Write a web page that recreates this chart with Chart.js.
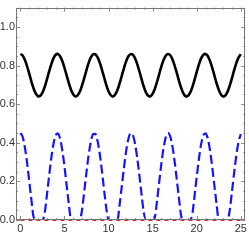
<!DOCTYPE html>
<html><head><meta charset="utf-8">
<script src="https://cdn.jsdelivr.net/npm/chart.js@4"></script>
<style>html,body{margin:0;padding:0;background:#fff;}canvas{display:block;}</style>
</head><body>
<canvas id="c" width="249" height="240"></canvas>
<script>
const xStart = 0, xStep = 0.25;
const blackVals = [0.860,0.852,0.830,0.797,0.758,0.717,0.681,0.654,0.641,0.643,0.660,0.689,0.727,0.768,0.806,0.837,0.856,0.860,0.848,0.823,0.788,0.748,0.708,0.673,0.650,0.640,0.646,0.666,0.698,0.737,0.778,0.815,0.843,0.858,0.858,0.843,0.815,0.778,0.738,0.698,0.666,0.646,0.640,0.650,0.673,0.707,0.747,0.787,0.823,0.848,0.859,0.856,0.838,0.807,0.769,0.728,0.690,0.660,0.643,0.641,0.654,0.680,0.716,0.757,0.797,0.830,0.852,0.860,0.853,0.831,0.798,0.759,0.718,0.682,0.655,0.641,0.643,0.659,0.688,0.726,0.767,0.806,0.837,0.855,0.860,0.849,0.824,0.789,0.749,0.708,0.674,0.650,0.640,0.646,0.665,0.697,0.736,0.777,0.814,0.842,0.858];
const blueVals = [0.450,0.431,0.378,0.298,0.202,0.103,0.015,0,0,0,0,0.035,0.127,0.226,0.320,0.394,0.439,0.449,0.421,0.361,0.276,0.177,0.080,0,0,0,0,0,0.056,0.151,0.250,0.340,0.408,0.445,0.446,0.409,0.342,0.252,0.153,0.058,0,0,0,0,0,0.078,0.175,0.273,0.359,0.421,0.449,0.440,0.395,0.321,0.228,0.129,0.037,0,0,0,0,0.014,0.101,0.200,0.296,0.377,0.431,0.450,0.432,0.380,0.300,0.204,0.105,0.017,0,0,0,0,0.032,0.125,0.224,0.318,0.393,0.439,0.449,0.422,0.362,0.277,0.179,0.082,0,0,0,0,0,0.054,0.149,0.248,0.338,0.407,0.445];
const redX = [0, 25];
const redVals = [0, 0];
const xTicks = [0, 5, 10, 15, 20, 25];
const yTicks = [0, 0.2, 0.4, 0.6, 0.8, 1.0];

const toPts = (vals) => vals.map((v, i) => ({x: xStart + i * xStep, y: v}));
const redPts = redX.map((x, i) => ({x: x, y: redVals[i]}));

const framePlugin = {
  id: 'frame',
  afterDraw(chart) {
    const ctx = chart.ctx, a = chart.chartArea;
    const xs = chart.scales.x, ys = chart.scales.y;
    ctx.save();
    ctx.strokeStyle = '#8a8a8a';
    ctx.lineWidth = 1;
    ctx.beginPath();
    for (let v = 0; v <= 25; v += 1) {
      const px = Math.round(xs.getPixelForValue(v)) + 0.5;
      const L = (v % 5 === 0) ? 4 : 2;
      ctx.moveTo(px, a.bottom); ctx.lineTo(px, a.bottom - L);
      ctx.moveTo(px, a.top); ctx.lineTo(px, a.top + L);
    }
    for (let i = 0; i <= 22; i++) {
      const v = i * 0.05;
      const py = Math.round(ys.getPixelForValue(v)) + 0.5;
      const L = (i % 4 === 0) ? 4 : 2;
      ctx.moveTo(a.left, py); ctx.lineTo(a.left + L, py);
      ctx.moveTo(a.right, py); ctx.lineTo(a.right - L, py);
    }
    ctx.stroke();
    ctx.strokeStyle = '#777';
    ctx.strokeRect(Math.round(a.left) + 0.5, Math.round(a.top) + 0.5, Math.round(a.right - a.left) - 1, Math.round(a.bottom - a.top) - 1);
    ctx.restore();
  }
};

new Chart(document.getElementById('c'), {
  type: 'line',
  data: {
    datasets: [
      {data: toPts(blackVals), borderColor: '#000', borderWidth: 2.6, pointRadius: 0, tension: 0.4, fill: false},
      {data: toPts(blueVals), borderColor: '#1414ff', borderWidth: 2.2, borderDash: [9, 4], pointRadius: 0, cubicInterpolationMode: 'monotone', fill: false},
      {data: redPts, borderColor: '#e0262a', borderWidth: 2, borderDash: [4, 4], pointRadius: 0, fill: false, clip: false}
    ]
  },
  options: {
    responsive: false,
    animation: false,
    devicePixelRatio: 1,
    layout: {padding: {top: 3, right: 3, left: 0, bottom: 0}},
    plugins: {legend: {display: false}, tooltip: {enabled: false}},
    scales: {
      x: {
        type: 'linear', min: -0.5, max: 25.5,
        afterBuildTicks: (s) => { s.ticks = xTicks.map(v => ({value: v})); },
        afterFit: (s) => { s.height = 20; },
        grid: {display: false, drawTicks: false}, border: {display: false},
        ticks: {padding: 2, color: '#333', font: {family: 'Liberation Sans', size: 11}, maxRotation: 0, autoSkip: false, callback: (v) => String(v)}
      },
      y: {
        type: 'linear', min: 0, max: 1.1,
        afterBuildTicks: (s) => { s.ticks = yTicks.map(v => ({value: v})); },
        afterFit: (s) => { s.width = 16; },
        grid: {display: false, drawTicks: false}, border: {display: false},
        ticks: {padding: 1, color: '#333', font: {family: 'Liberation Sans', size: 11}, autoSkip: false, callback: (v) => Number(v).toFixed(1)}
      }
    }
  },
  plugins: [framePlugin]
});
</script>
</body></html>
